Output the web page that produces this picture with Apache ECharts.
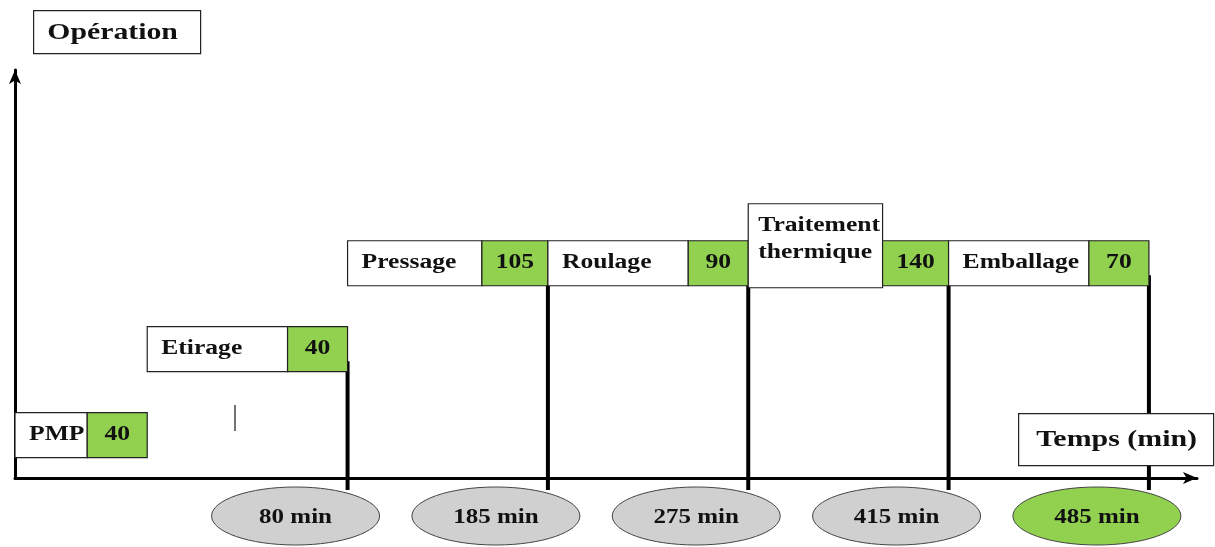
<!DOCTYPE html>
<html>
<head>
<meta charset="utf-8">
<title>Opération / Temps</title>
<script src="https://cdn.jsdelivr.net/npm/echarts@6/dist/echarts.min.js"></script>
<style>
  html, body { margin: 0; padding: 0; background: #fff; }
  #chart { width: 1215px; height: 547px; }
</style>
</head>
<body>
<div id="chart"></div>
<script>
// operations in order, their duration (min) and the step level they sit on
const operations = ['PMP', 'Etirage', 'Pressage', 'Roulage', 'Traitement\nthermique', 'Emballage'];
const durations = [40, 40, 105, 90, 140, 70];
const levels = [1, 2, 3, 3, 3, 3];
// cumulated time marks, and the operation each one closes
const milestones = [80, 185, 275, 415, 485];
const milestoneOp = [1, 2, 3, 4, 5];

const X_MIN = 0.34;
const FONT = '"Liberation Serif", "Times New Roman", serif';
const GREEN = '#92d050';
const WIDE = 1.28; // the source text is drawn stretched

const chart = echarts.init(document.getElementById('chart'));

function boxRender(params, api) {
    const i = api.value(0);
    const lvl = api.value(1);
    const name = operations[i];
    const dur = durations[i];
    const h = 45;
    const right = api.coord([i + 1, lvl]);
    const left = api.coord([Math.max(i, X_MIN), lvl]);
    const valW = String(dur).length > 2 ? 66 : 60;
    const twoLines = name.indexOf('\n') >= 0;
    const extra = twoLines ? 37 : 0;
    const top = right[1] - h / 2;
    const labelW = right[0] - valW - left[0];
    return {
        type: 'group',
        children: [
            {
                type: 'rect',
                shape: { x: left[0], y: top - extra, width: labelW, height: h + extra + (twoLines ? 2 : 0) },
                style: { fill: '#fff', stroke: '#222', lineWidth: 1.2 }
            },
            {
                type: 'text',
                x: left[0] + (twoLines ? 10 : 14),
                y: twoLines ? top - extra + 9 : right[1],
                scaleX: WIDE,
                style: {
                    text: name,
                    fill: '#111',
                    font: 'bold 20px ' + FONT,
                    lineHeight: 27,
                    verticalAlign: twoLines ? 'top' : 'middle',
                    align: 'left'
                }
            },
            {
                type: 'rect',
                shape: { x: right[0] - valW, y: top, width: valW, height: h },
                style: { fill: GREEN, stroke: '#222', lineWidth: 1.2 }
            },
            {
                type: 'text',
                x: right[0] - valW / 2,
                y: right[1],
                scaleX: WIDE,
                style: {
                    text: String(dur),
                    fill: '#111',
                    font: 'bold 20px ' + FONT,
                    align: 'center',
                    verticalAlign: 'middle'
                }
            }
        ]
    };
}

function markRender(params, api) {
    const k = params.dataIndex;
    const op = api.value(0);
    const lvl = levels[op];
    const p = api.coord([op + 1, lvl]);
    const base = api.coord([op + 1, 0.5]);
    const cx = p[0] - 52;
    const cy = base[1] + 38;
    const last = k === milestones.length - 1;
    return {
        type: 'group',
        children: [
            {
                type: 'ellipse',
                shape: { cx: cx, cy: cy, rx: 84, ry: 29 },
                style: { fill: last ? GREEN : '#d0d0d0', stroke: '#444', lineWidth: 1 }
            },
            {
                type: 'line',
                shape: { x1: p[0], y1: p[1] + 12, x2: p[0], y2: base[1] + 12 },
                style: { stroke: '#000', lineWidth: 4 }
            },
            {
                type: 'text',
                x: cx,
                y: cy + 2,
                scaleX: 1.25,
                style: {
                    text: api.value(1) + ' min',
                    fill: '#111',
                    font: 'bold 20px ' + FONT,
                    align: 'center',
                    verticalAlign: 'middle'
                }
            }
        ]
    };
}

const option = {
    animation: false,
    grid: { left: 15, right: 18, top: 70, bottom: 69 },
    xAxis: {
        type: 'value',
        min: X_MIN,
        max: 6.24,
        axisLine: {
            show: true,
            symbol: ['none', 'arrow'],
            symbolSize: [9, 14],
            lineStyle: { color: '#000', width: 3 }
        },
        axisTick: { show: false },
        axisLabel: { show: false },
        splitLine: { show: false }
    },
    yAxis: {
        type: 'value',
        min: 0.5,
        max: 5.25,
        axisLine: {
            show: true,
            symbol: ['none', 'arrow'],
            symbolSize: [9, 14],
            lineStyle: { color: '#000', width: 3 }
        },
        axisTick: { show: false },
        axisLabel: { show: false },
        splitLine: { show: false }
    },
    graphic: [
        {
            type: 'group',
            left: 33,
            top: 10,
            children: [
                { type: 'rect', z: 100, shape: { x: 0, y: 0, width: 167, height: 43 }, style: { fill: '#fff', stroke: '#222', lineWidth: 1.2 } },
                { type: 'text', z: 101, x: 79, y: 22, scaleX: 1.24, style: { text: 'Opération', font: 'bold 24px ' + FONT, fill: '#111', align: 'center', verticalAlign: 'middle' } }
            ]
        },
        {
            type: 'group',
            left: 1018,
            top: 413,
            children: [
                { type: 'rect', z: 100, shape: { x: 0, y: 0, width: 195, height: 52 }, style: { fill: '#fff', stroke: '#222', lineWidth: 1.2 } },
                { type: 'text', z: 101, x: 98, y: 26, scaleX: 1.3, style: { text: 'Temps (min)', font: 'bold 23px ' + FONT, fill: '#111', align: 'center', verticalAlign: 'middle' } }
            ]
        },
        {
            type: 'line',
            shape: { x1: 235, y1: 405, x2: 235, y2: 431 },
            style: { stroke: '#444', lineWidth: 1.5 }
        }
    ],
    series: [
        {
            type: 'custom',
            name: 'marks',
            clip: false,
            z: 2,
            renderItem: markRender,
            data: milestones.map((m, k) => [milestoneOp[k], m])
        },
        {
            type: 'custom',
            name: 'operations',
            clip: false,
            z: 3,
            renderItem: boxRender,
            data: operations.map((n, i) => [i, levels[i], durations[i]])
        }
    ]
};

chart.setOption(option);
</script>
</body>
</html>
